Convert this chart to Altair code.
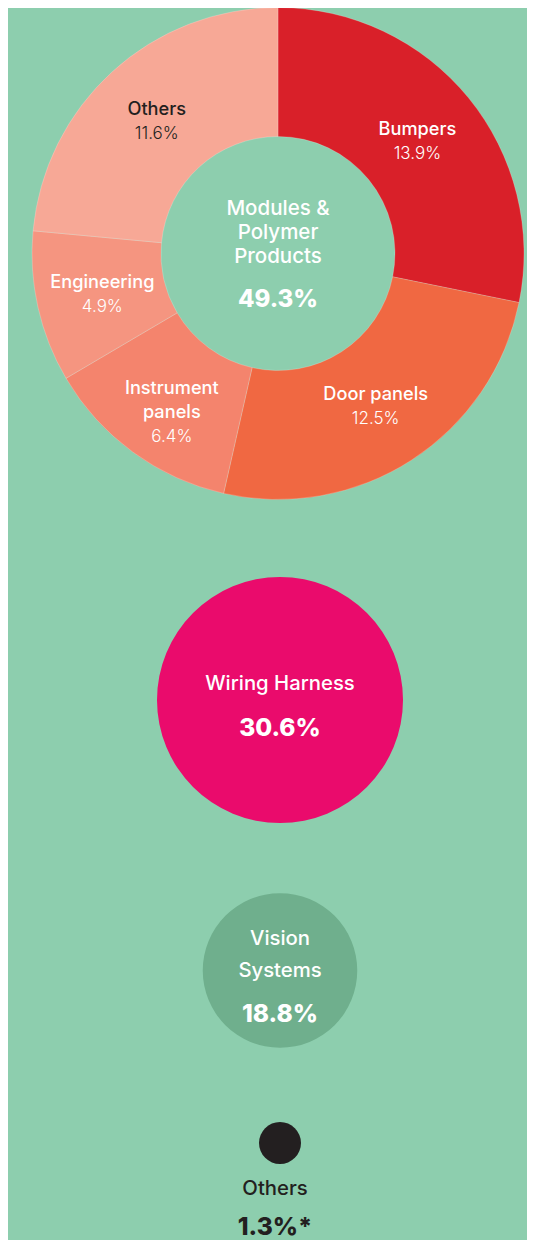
import altair as alt
import pandas as pd

# ---------------- data ----------------
seg_names = ["Bumpers", "Door panels", "Instrument\npanels", "Engineering", "Others"]
seg_values = [13.9, 12.5, 6.4, 4.9, 11.6]
seg_colors = ["#D92029", "#F06842", "#F4846D", "#F59580", "#F7A896"]
seg_text_colors = ["#FFFFFF", "#FFFFFF", "#FFFFFF", "#FFFFFF", "#231F20"]

group_names = ["Modules &\nPolymer\nProducts", "Wiring Harness", "Vision\nSystems", "Others"]
group_values = [49.3, 30.6, 18.8, 1.3]
group_labels = ["49.3%", "30.6%", "18.8%", "1.3%*"]
group_colors = ["#8DCEAE", "#EA0B6C", "#6FAF8D", "#231F20"]
group_text_colors = ["#FFFFFF", "#FFFFFF", "#FFFFFF", "#231F20"]

# ---------------- layout (pixels) ----------------
W, H = 519, 1232
BG = "#8DCEAE"
FONT = "Inter"
CX, CY = 270, 245.5
R_OUT, R_IN, R_LAB = 246, 117, 180
CENTER_NAME_Y, CENTER_PCT_Y = 207, 299
circle_x = [272, 272, 272]
circle_y = [692, 962.5, 1135]
name_x = [272, 272, 267]
name_y = [682, 937, 1187]
pct_y = [728, 1014, 1227]

seg = pd.DataFrame({
    "name": seg_names,
    "value": seg_values,
    # percentage sits below every line of its (possibly wrapped) name
    "pct": ["\n" * n.count("\n") + f"{v}%" for n, v in zip(seg_names, seg_values)],
    "order": list(range(len(seg_values))),
    "color": seg_colors,
    "tcolor": seg_text_colors,
})

center = pd.DataFrame({"name": group_names[:1], "pct": group_labels[:1],
                       "tcolor": group_text_colors[:1]})

circ = pd.DataFrame({
    "name": group_names[1:],
    "value": group_values[1:],
    "pct": group_labels[1:],
    "color": group_colors[1:],
    "tcolor": group_text_colors[1:],
    "cx": circle_x, "cy": circle_y,
    "nx": name_x, "ny": name_y, "py": pct_y,
})

base = alt.Chart(seg).encode(
    theta=alt.Theta("value:Q", stack=True),
    order=alt.Order("order:Q"),
    x=alt.value(CX),
    y=alt.value(CY),
)

arcs = base.mark_arc(outerRadius=R_OUT, innerRadius=R_IN,
                     stroke="#FFFFFF", strokeOpacity=0.25, strokeWidth=0.8).encode(
    color=alt.Color("color:N", scale=None)
)

seg_name_txt = base.mark_text(radius=R_LAB, baseline="bottom", dy=-1, fontSize=18.2,
                              fontWeight=500, font=FONT, lineBreak="\n", lineHeight=24).encode(
    text="name:N", color=alt.Color("tcolor:N", scale=None)
)
seg_pct_txt = base.mark_text(radius=R_LAB, baseline="top", dy=6, fontSize=17,
                             fontWeight=300, font=FONT, lineBreak="\n", lineHeight=24).encode(
    text="pct:N", color=alt.Color("tcolor:N", scale=None)
)

cbase = alt.Chart(center)
center_name = cbase.mark_text(baseline="alphabetic", fontSize=20.5, fontWeight=500, font=FONT,
                              lineBreak="\n", lineHeight=24).encode(
    x=alt.value(CX), y=alt.value(CENTER_NAME_Y), text="name:N",
    color=alt.Color("tcolor:N", scale=None))
center_pct = cbase.mark_text(baseline="alphabetic", fontSize=24, fontWeight=800, font=FONT).encode(
    x=alt.value(CX), y=alt.value(CENTER_PCT_Y), text="pct:N",
    color=alt.Color("tcolor:N", scale=None))

circ_base = alt.Chart(circ)
circles = circ_base.mark_circle(opacity=1).encode(
    x=alt.X("cx:Q", scale=None, axis=None),
    y=alt.Y("cy:Q", scale=None, axis=None),
    size=alt.Size("value:Q", scale=alt.Scale(type="pow", exponent=2, zero=False,
                                             range=[1764, 60516]), legend=None),
    color=alt.Color("color:N", scale=None),
)
circ_names = circ_base.mark_text(baseline="alphabetic", fontSize=20.3, fontWeight=500, font=FONT,
                                 lineBreak="\n", lineHeight=32).encode(
    x=alt.X("nx:Q", scale=None, axis=None),
    y=alt.Y("ny:Q", scale=None, axis=None),
    text="name:N", color=alt.Color("tcolor:N", scale=None))
circ_pcts = circ_base.mark_text(baseline="alphabetic", fontSize=24.5, fontWeight=800, font=FONT).encode(
    x=alt.X("nx:Q", scale=None, axis=None),
    y=alt.Y("py:Q", scale=None, axis=None),
    text="pct:N", color=alt.Color("tcolor:N", scale=None))

chart = alt.layer(
    arcs, seg_name_txt, seg_pct_txt, center_name, center_pct,
    circles, circ_names, circ_pcts
).resolve_scale(x="independent", y="independent").properties(
    width=W, height=H, background=BG, padding=0,
    autosize=alt.AutoSizeParams(type="none"),
).configure_view(stroke=None)

chart.save("out.html", embed_options={"renderer": "svg", "actions": False})
